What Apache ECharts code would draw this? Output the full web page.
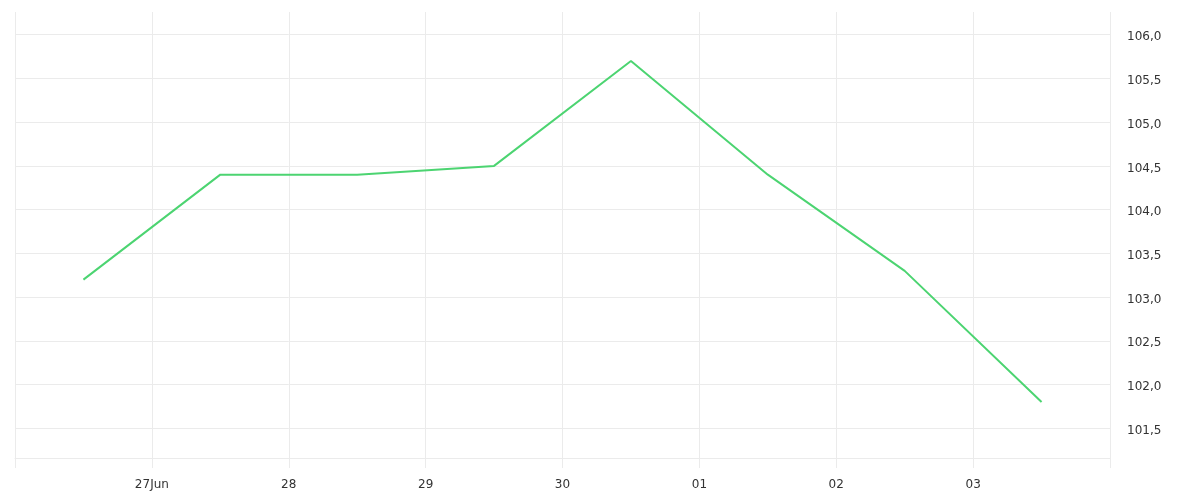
<!DOCTYPE html>
<html>
<head>
<meta charset="utf-8">
<script src="https://cdn.jsdelivr.net/npm/echarts@6/dist/echarts.min.js"></script>
<style>
html,body{margin:0;padding:0;background:#fff;}
#chart{width:1200px;height:500px;}
</style>
</head>
<body>
<div id="chart"></div>
<script>
// Days on the x axis (day index 0 = 26 Jun, 8 = 04 Jul); edge days are not labelled
const dayLabels = ['', '27Jun', '28', '29', '30', '01', '02', '03', ''];
// Observations taken at the middle of each day, 26 Jun .. 03 Jul
const pointDays = [0.5, 1.5, 2.5, 3.5, 4.5, 5.5, 6.5, 7.5];
const values = [103.2, 104.4, 104.4, 104.5, 105.7, 104.4, 103.3, 101.8];

const gridColor = '#ebebeb';
const chart = echarts.init(document.getElementById('chart'), null, {renderer: 'canvas'});
chart.setOption({
  animation: false,
  grid: {left: 15, right: 90, top: 12, bottom: 42, containLabel: false},
  xAxis: {
    type: 'value',
    min: 0,
    max: dayLabels.length - 1,
    interval: 1,
    axisLine: {show: true, lineStyle: {color: gridColor, width: 1}},
    axisTick: {show: true, length: 10, lineStyle: {color: gridColor, width: 1}},
    splitLine: {show: true, lineStyle: {color: gridColor, width: 1}},
    axisLabel: {
      margin: 21,
      color: '#333',
      fontFamily: 'DejaVu Sans',
      fontSize: 12,
      showMinLabel: true,
      showMaxLabel: true,
      formatter: function (v) { return dayLabels[Math.round(v)] || ''; }
    }
  },
  yAxis: {
    type: 'value',
    position: 'right',
    min: 101.16,
    max: 106.26,
    splitNumber: 10,
    axisLine: {show: false},
    axisTick: {show: false},
    splitLine: {show: true, showMaxLine: false, lineStyle: {color: gridColor, width: 1}},
    axisLabel: {
      margin: 17,
      verticalAlign: 'top',
      lineHeight: 5,
      color: '#333',
      fontFamily: 'DejaVu Sans',
      fontSize: 12,
      showMinLabel: false,
      showMaxLabel: false,
      formatter: function (v) { return v.toFixed(1).replace('.', ','); }
    }
  },
  series: [{
    type: 'line',
    data: pointDays.map((d, i) => [d, values[i]]),
    showSymbol: false,
    symbol: 'none',
    lineStyle: {color: '#4cd471', width: 2},
    itemStyle: {color: '#4cd471'}
  }]
});
</script>
</body>
</html>
